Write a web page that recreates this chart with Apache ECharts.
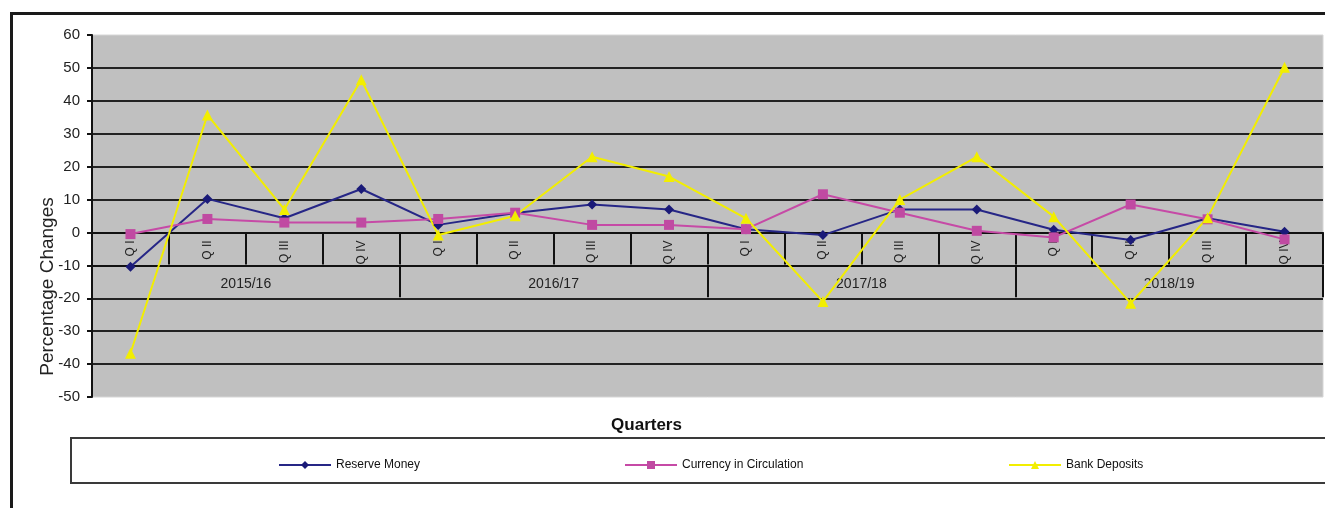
<!DOCTYPE html>
<html><head><meta charset="utf-8">
<script src="https://cdn.jsdelivr.net/npm/echarts@6/dist/echarts.min.js"></script>
<style>
html,body{margin:0;padding:0;background:#fff;overflow:hidden;width:1325px;height:508px;}
#frame{position:absolute;left:10px;top:12px;width:1400px;height:600px;border:3px solid #1a1a1a;box-sizing:border-box;}
#legendBox{position:absolute;left:70px;top:437px;width:1300px;height:47px;border:2px solid #3a3a3a;box-sizing:border-box;}
#chart{position:absolute;left:0;top:0;width:1325px;height:508px;}
</style></head><body>
<div id="frame"></div><div id="legendBox"></div><div id="chart"></div>
<script>
const quarterLabels = ['Q I','Q II','Q III','Q IV','Q I','Q II','Q III','Q IV','Q I','Q II','Q III','Q IV','Q I','Q II','Q III','Q IV'];
const yearLabels = ['2015/16','2016/17','2017/18','2018/19'];
const reserveMoney = [-10.4, 10.2, 4.3, 13.2, 2.3, 5.9, 8.5, 7.0, 1.0, -0.8, 7.0, 7.0, 0.8, -2.3, 4.3, 0.2];
const currencyInCirculation = [-0.5, 4.1, 3.0, 3.0, 4.1, 6.0, 2.3, 2.3, 1.0, 11.6, 6.0, 0.5, -1.5, 8.5, 4.0, -2.1];
const bankDeposits = [-36.7, 35.7, 7.0, 46.4, -0.8, 5.1, 23.0, 17.0, 4.3, -21.0, 10.0, 23.0, 4.8, -21.5, 4.5, 50.2];
const yTicks = {min: -50, max: 60, interval: 10};

const FONT = '"Liberation Sans", Arial, sans-serif';
const chart = echarts.init(document.getElementById('chart'), null, {renderer: 'canvas'});

const GRID_TOP = 35, GRID_H = 362;
// pixel offset from grid bottom to a given y value (used to place the two category axes inside the plot)
function offsetFor(v) {
  return -((v - yTicks.min) / (yTicks.max - yTicks.min)) * GRID_H;
}

const legendBase = {
  top: 454, itemWidth: 52, itemHeight: 10, orient: 'horizontal',
  textStyle: {fontSize: 12, color: '#111', fontFamily: FONT}
};

chart.setOption({
  animation: false,
  backgroundColor: 'transparent',
  textStyle: {fontFamily: FONT},
  grid: {left: 92, right: 2, top: GRID_TOP, height: GRID_H, show: true,
         backgroundColor: '#c0c0c0', borderColor: '#d6d6d6', borderWidth: 1, containLabel: false},
  legend: [
    Object.assign({}, legendBase, {left: 273, data: ['Reserve Money']}),
    Object.assign({}, legendBase, {left: 619, data: ['Currency in Circulation']}),
    Object.assign({}, legendBase, {left: 1003, data: ['Bank Deposits']})
  ],
  xAxis: [
    {
      type: 'category', data: quarterLabels, boundaryGap: true, position: 'bottom', offset: offsetFor(0),
      axisLine: {show: true, onZero: false, lineStyle: {color: '#111', width: 2}},
      axisTick: {show: true, interval: 0, length: 32, lineStyle: {color: '#111', width: 2}},
      axisLabel: {interval: 0, rotate: 90, fontSize: 12, margin: 8, color: '#222', fontFamily: FONT},
      splitLine: {show: false}
    },
    {
      type: 'category', data: yearLabels, boundaryGap: true, position: 'bottom', offset: offsetFor(-10),
      axisLine: {show: true, onZero: false, lineStyle: {color: '#111', width: 2}},
      axisTick: {show: true, interval: 0, length: 32, lineStyle: {color: '#111', width: 2}},
      axisLabel: {interval: 0, fontSize: 14, margin: 12, color: '#222', fontFamily: FONT},
      splitLine: {show: false},
      name: 'Quarters', nameLocation: 'middle', nameGap: 151, nameMoveOverlap: false,
      nameTextStyle: {fontSize: 17, fontWeight: 'bold', color: '#111', fontFamily: FONT, padding: [0, 122, 0, 0]}
    }
  ],
  yAxis: {
    type: 'value', min: yTicks.min, max: yTicks.max, interval: yTicks.interval,
    axisLine: {show: true, onZero: false, lineStyle: {color: '#111', width: 2}},
    axisTick: {show: true, length: 5, lineStyle: {color: '#111', width: 2}},
    axisLabel: {fontSize: 15, margin: 12, color: '#222', fontFamily: FONT},
    splitLine: {show: true, showMinLine: false, showMaxLine: false, lineStyle: {color: '#222', width: 2}},
    name: 'Percentage Changes', nameLocation: 'middle', nameGap: 35, nameMoveOverlap: false,
    nameTextStyle: {fontSize: 19, color: '#222', fontFamily: FONT, padding: [0, 141, 0, 0]}
  },
  series: [
    {name: 'Reserve Money', type: 'line', data: reserveMoney, xAxisIndex: 0,
     symbol: 'diamond', symbolSize: 10, showAllSymbol: true,
     lineStyle: {color: '#262686', width: 2}, itemStyle: {color: '#1a1a78'}},
    {name: 'Currency in Circulation', type: 'line', data: currencyInCirculation, xAxisIndex: 0,
     symbol: 'rect', symbolSize: 10, showAllSymbol: true,
     lineStyle: {color: '#c64aa6', width: 2}, itemStyle: {color: '#c04aa2'}},
    {name: 'Bank Deposits', type: 'line', data: bankDeposits, xAxisIndex: 0,
     symbol: 'triangle', symbolSize: 11, showAllSymbol: true,
     lineStyle: {color: '#f2ee00', width: 2}, itemStyle: {color: '#f2ee00'}}
  ]
});
</script>
</body></html>
